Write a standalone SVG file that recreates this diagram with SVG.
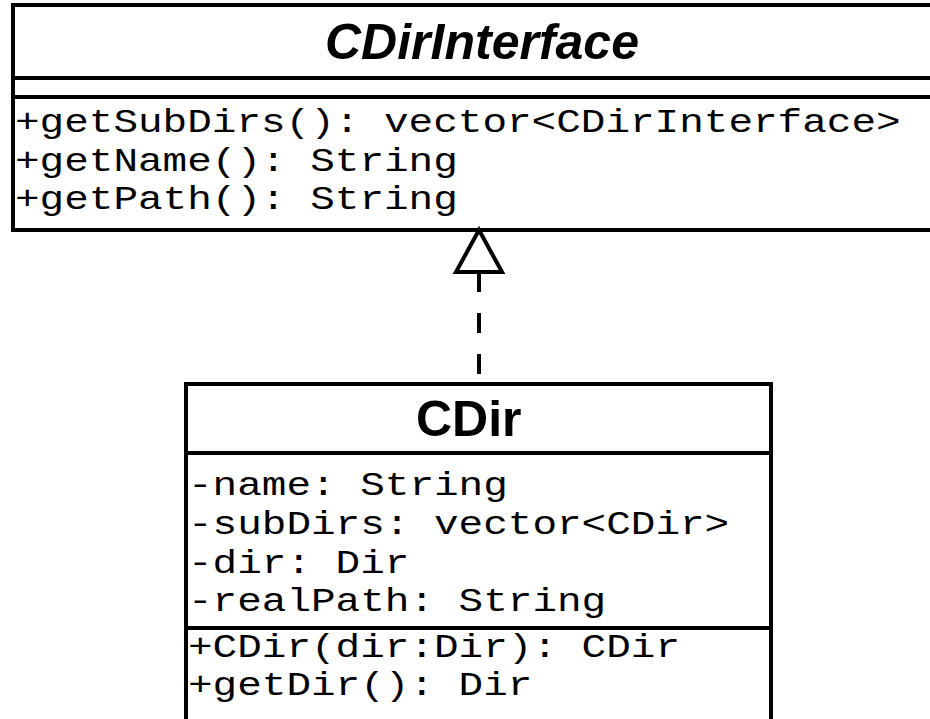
<svg xmlns="http://www.w3.org/2000/svg" width="930" height="719" viewBox="0 0 930 719">
  <style>
    .box { fill: #ffffff; stroke: #000000; stroke-width: 4; }
    .div { stroke: #000000; stroke-width: 4; }
    .title { font-family: "Liberation Sans", Arial, sans-serif; font-weight: bold; font-size: 50px; fill: #000000; }
    .mono { font-family: "Liberation Mono", "Courier New", monospace; font-size: 34px; fill: #000000; }
    .conn { fill: none; stroke: #000000; stroke-width: 4; }
  </style>
  <rect x="0" y="0" width="930" height="719" fill="#ffffff"/>
  <g id="CDirInterface">
    <rect class="box" x="13" y="5" width="940" height="225"/>
    <line class="div" x1="13" y1="78" x2="953" y2="78"/>
    <line class="div" x1="13" y1="97" x2="953" y2="97"/>
    <text class="title" x="325" y="59" font-style="italic">CDirInterface</text>
    <text class="mono" x="15" y="132" textLength="885.6" lengthAdjust="spacingAndGlyphs" xml:space="preserve">+getSubDirs(): vector&lt;CDirInterface&gt;</text>
    <text class="mono" x="15" y="171" textLength="442.8" lengthAdjust="spacingAndGlyphs" xml:space="preserve">+getName(): String</text>
    <text class="mono" x="15" y="209" textLength="442.8" lengthAdjust="spacingAndGlyphs" xml:space="preserve">+getPath(): String</text>
  </g>
  <g id="CDir">
    <rect class="box" x="186" y="384" width="585" height="400"/>
    <line class="div" x1="186" y1="453" x2="771" y2="453"/>
    <line class="div" x1="186" y1="628" x2="771" y2="628"/>
    <text class="title" x="416" y="436">CDir</text>
    <text class="mono" x="188" y="495" textLength="319.8" lengthAdjust="spacingAndGlyphs" xml:space="preserve">-name: String</text>
    <text class="mono" x="188" y="534" textLength="541.2" lengthAdjust="spacingAndGlyphs" xml:space="preserve">-subDirs: vector&lt;CDir&gt;</text>
    <text class="mono" x="188" y="573" textLength="221.4" lengthAdjust="spacingAndGlyphs" xml:space="preserve">-dir: Dir</text>
    <text class="mono" x="188" y="611" textLength="418.2" lengthAdjust="spacingAndGlyphs" xml:space="preserve">-realPath: String</text>
    <text class="mono" x="188" y="657" textLength="492" lengthAdjust="spacingAndGlyphs" xml:space="preserve">+CDir(dir:Dir): CDir</text>
    <text class="mono" x="188" y="695" textLength="344.4" lengthAdjust="spacingAndGlyphs" xml:space="preserve">+getDir(): Dir</text>
  </g>
  <g id="connectors">
    <line class="conn" x1="479" y1="272" x2="479" y2="384" stroke-dasharray="20 21"/>
    <polygon class="conn" points="479,230 502,272 456,272" fill="#ffffff"/>
  </g>
</svg>
